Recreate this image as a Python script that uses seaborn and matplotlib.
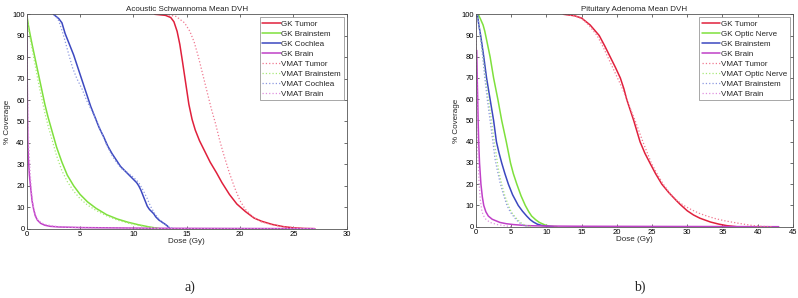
import numpy as np
import pandas as pd
import matplotlib
matplotlib.use('Agg')
import matplotlib.pyplot as plt
import seaborn as sns

sns.set_style('white')
plt.rcParams['font.family'] = ['Liberation Sans', 'DejaVu Sans']

# a) Acoustic Schwannoma
as_gk_tumor_dose = [12.0, 13.0, 13.5, 13.8, 14.1, 14.35, 14.6, 14.9, 15.2, 15.5, 15.8, 16.2, 16.7, 17.2, 17.8, 18.3, 19.0, 19.7, 20.5, 21.3, 22.0, 23.0, 24.0, 25.0, 26.0, 27.0]
as_gk_tumor_cov = [100, 99.5, 98.5, 96.5, 92, 86, 78, 68, 58, 51, 46, 41, 36, 31, 26, 21.5, 16, 11.5, 8, 5, 3.5, 2, 1, 0.4, 0.1, 0]
as_vmat_tumor_dose = [13.0, 14.0, 14.8, 15.3, 15.7, 16.1, 16.5, 16.9, 17.3, 17.7, 18.1, 18.5, 19.0, 19.5, 20.0, 20.5, 21.2, 22.0, 23.0, 24.0, 25.0, 26.0]
as_vmat_tumor_cov = [100, 99, 96, 92, 87, 80, 72, 64, 56, 49, 41, 34, 26, 19, 13, 9, 5.5, 3.2, 1.8, 1.0, 0.5, 0]

as_gk_brainstem_dose = [0, 0.15, 0.3, 0.5, 0.8, 1.1, 1.4, 1.7, 2.0, 2.4, 2.8, 3.3, 3.8, 4.4, 5.0, 5.7, 6.5, 7.5, 8.5, 9.5, 10.5, 11.5, 12.5]
as_gk_brainstem_cov = [100, 95, 91, 86, 79, 72, 65, 58, 52, 45, 38, 31, 25, 20, 16, 12.5, 9.5, 6.5, 4.5, 3, 1.8, 0.8, 0]
as_vmat_brainstem_dose = [0, 0.15, 0.3, 0.5, 0.8, 1.1, 1.4, 1.7, 2.0, 2.4, 2.8, 3.3, 3.8, 4.4, 5.0, 5.7, 6.5, 7.5, 8.5, 9.5, 10.5, 11.5, 12.5]
as_vmat_brainstem_cov = [100, 94, 89, 84, 76, 68, 61, 54, 48, 41, 34, 27, 22, 17.5, 14, 11, 8.5, 6, 4, 2.6, 1.5, 0.6, 0]

as_gk_cochlea_dose = [2.5, 3.0, 3.3, 3.6, 4.0, 4.4, 4.8, 5.2, 5.6, 6.0, 6.4, 6.8, 7.2, 7.6, 8.0, 8.4, 8.8, 9.2, 9.6, 10.0, 10.3, 10.5, 10.7, 10.9, 11.1, 11.3, 11.5, 11.7, 11.9, 12.1, 12.4, 12.7, 13.0, 13.2, 13.4]
as_gk_cochlea_cov = [100, 98, 96, 91, 86, 81, 75, 69, 63, 57, 52, 47, 43, 38.5, 35, 32, 29, 27, 25, 23, 21.5, 20, 18, 15.5, 13, 10.5, 9, 8, 7, 5.5, 4, 3, 2, 1.2, 0]
as_vmat_cochlea_dose = [2.6, 3.0, 3.4, 3.9, 4.3, 4.7, 5.2, 5.6, 6.1, 6.6, 7.0, 7.4, 7.9, 8.4, 8.9, 9.5, 10.0, 10.5, 10.9, 11.3, 11.6, 12.0, 12.4, 12.8, 13.2, 13.75]
as_vmat_cochlea_cov = [100, 97, 91, 82, 75, 70, 65, 60, 55, 50, 45, 40, 35, 31, 28, 26, 24, 21.5, 18, 14, 10.5, 7, 4.5, 2.5, 1.2, 0]

as_gk_brain_dose = [0, 0.02, 0.04, 0.07, 0.1, 0.15, 0.25, 0.37, 0.5, 0.65, 0.8, 1.0, 1.3, 1.7, 2.2, 3.0, 5.3, 12, 27]
as_gk_brain_cov = [100, 92, 75, 55, 42, 33, 25, 19, 13, 9, 6, 4, 2.5, 1.6, 1.1, 0.8, 0.5, 0.2, 0]
as_vmat_brain_dose = [0, 0.03, 0.07, 0.12, 0.2, 0.3, 0.45, 0.6, 0.8, 1.0, 1.3, 1.7, 2.5, 3.5, 5, 12, 27]
as_vmat_brain_cov = [100, 85, 65, 50, 38, 28, 17, 11, 7, 4.5, 3, 2, 1.2, 0.8, 0.4, 0.1, 0]

# b) Pituitary Adenoma
pa_gk_tumor_dose = [12.4, 14.0, 15.0, 16.2, 17.5, 18.3, 19.05, 19.8, 20.5, 21.0, 21.4, 21.9, 22.4, 22.85, 23.3, 24.0, 24.7, 25.5, 26.4, 27.4, 28.4, 29.0, 30.0, 30.9, 31.8, 33.3, 34.5, 35.6, 37.0]
pa_gk_tumor_cov = [100, 99.3, 98.2, 95, 90, 85, 80, 75, 70, 65, 60, 55, 50, 45, 40, 34.5, 30, 25, 20, 16, 12.5, 10.5, 7.5, 5.5, 4, 2.2, 1.2, 0.5, 0]
pa_vmat_tumor_dose = [12.4, 14.0, 15.0, 16.0, 17.2, 18.0, 18.7, 19.4, 20.1, 20.8, 21.4, 22.0, 22.6, 23.15, 23.7, 24.3, 24.9, 25.7, 26.6, 27.6, 28.5, 29.5, 30.6, 31.7, 32.8, 34.0, 35.3, 36.6, 38.0, 39.2, 40.4, 42.0]
pa_vmat_tumor_cov = [100, 99.3, 98, 95, 90, 85, 80, 75, 70, 65, 60, 55, 50, 45, 40, 35, 30, 25, 20, 15.5, 12.5, 10, 8, 6.3, 5, 3.8, 2.8, 2, 1.2, 0.6, 0.2, 0]

pa_gk_optic_dose = [0.3, 0.6, 1.0, 1.25, 1.5, 1.75, 2.0, 2.5, 3.1, 3.65, 4.3, 4.9, 5.3, 5.8, 6.4, 7.0, 7.5, 7.9, 8.5, 9.0, 9.8, 10.5, 11.5]
pa_gk_optic_cov = [100, 98, 95, 92, 88, 84, 80, 70, 60, 50, 40, 30, 25, 20, 14.5, 10, 7, 5, 3.2, 2, 0.8, 0.2, 0]
pa_vmat_optic_dose = [0.2, 0.4, 0.6, 1.0, 1.35, 1.75, 2.2, 2.6, 3.0, 3.3, 3.65, 4.1, 4.6, 5.0, 5.5, 6.0, 6.5, 7.2, 8.0]
pa_vmat_optic_cov = [100, 96, 90, 80, 70, 60, 50, 40, 31, 25, 20, 14.5, 10, 7, 4.8, 3, 1.5, 0.4, 0]

pa_gk_brainstem_dose = [0.2, 0.4, 0.66, 1.1, 1.5, 2.0, 2.5, 2.9, 3.25, 3.65, 4.1, 4.6, 5.2, 6.0, 6.6, 7.2, 7.7, 8.15, 8.7, 9.3, 10.2, 11.0]
pa_gk_brainstem_cov = [100, 95, 90, 80, 70, 60, 50, 40, 35, 30, 25, 20, 15, 10, 7.3, 5, 3.3, 2.2, 1.2, 0.6, 0.2, 0]
pa_vmat_brainstem_dose = [0.2, 0.4, 0.6, 0.95, 1.25, 1.6, 2.0, 2.4, 2.7, 3.0, 3.4, 3.9, 4.4, 4.85, 5.3, 5.7, 6.2, 6.7, 7.5]
pa_vmat_brainstem_cov = [100, 95, 90, 80, 70, 60, 50, 40, 32, 27, 21, 15, 10, 7, 5, 3.3, 1.8, 0.7, 0]

pa_gk_brain_dose = [0, 0.1, 0.17, 0.24, 0.3, 0.38, 0.5, 0.7, 0.9, 1.1, 1.4, 1.75, 2.3, 3.4, 4.3, 5.3, 7.2, 10, 15, 43]
pa_gk_brain_cov = [83, 83, 70, 60, 50, 40, 30, 20, 14, 10, 7, 5, 3.5, 2, 1.4, 1, 0.5, 0.3, 0.2, 0]
pa_vmat_brain_dose = [0, 0.05, 0.1, 0.15, 0.22, 0.32, 0.45, 0.6, 0.8, 1.0, 1.4, 2.0, 3.0, 4.0, 5.0]
pa_vmat_brain_cov = [100, 80, 65, 52, 40, 30, 20, 13, 8, 5.5, 3.5, 2, 1, 0.5, 0]

red, green, blue, mag = '#e0203c', '#7ee03c', '#3c48c0', '#c040c8'
lred, lgreen, lblue, lmag = '#f07890', '#a8e878', '#8c98e0', '#e090e0'

panels = [
    ('Acoustic Schwannoma Mean DVH', 30, [
        ('GK Tumor', as_gk_tumor_dose, as_gk_tumor_cov, red, '-'),
        ('GK Brainstem', as_gk_brainstem_dose, as_gk_brainstem_cov, green, '-'),
        ('GK Cochlea', as_gk_cochlea_dose, as_gk_cochlea_cov, blue, '-'),
        ('GK Brain', as_gk_brain_dose, as_gk_brain_cov, mag, '-'),
        ('VMAT Tumor', as_vmat_tumor_dose, as_vmat_tumor_cov, lred, ':'),
        ('VMAT Brainstem', as_vmat_brainstem_dose, as_vmat_brainstem_cov, lgreen, ':'),
        ('VMAT Cochlea', as_vmat_cochlea_dose, as_vmat_cochlea_cov, lblue, ':'),
        ('VMAT Brain', as_vmat_brain_dose, as_vmat_brain_cov, lmag, ':'),
    ], [0.0335, 0.2326, 0.401, 0.7195], 'a)', 0.238),
    ('Pituitary Adenoma Mean DVH', 45, [
        ('GK Tumor', pa_gk_tumor_dose, pa_gk_tumor_cov, red, '-'),
        ('GK Optic Nerve', pa_gk_optic_dose, pa_gk_optic_cov, green, '-'),
        ('GK Brainstem', pa_gk_brainstem_dose, pa_gk_brainstem_cov, blue, '-'),
        ('GK Brain', pa_gk_brain_dose, pa_gk_brain_cov, mag, '-'),
        ('VMAT Tumor', pa_vmat_tumor_dose, pa_vmat_tumor_cov, lred, ':'),
        ('VMAT Optic Nerve', pa_vmat_optic_dose, pa_vmat_optic_cov, lgreen, ':'),
        ('VMAT Brainstem', pa_vmat_brainstem_dose, pa_vmat_brainstem_cov, lblue, ':'),
        ('VMAT Brain', pa_vmat_brain_dose, pa_vmat_brain_cov, lmag, ':'),
    ], [0.5965, 0.2393, 0.397, 0.7128], 'b)', 0.802),
]

fig = plt.figure(figsize=(7.98, 2.98), dpi=100)

for title, xmax, series, pos, tag, tx in panels:
    ax = fig.add_axes(pos)
    for name, d, c, col, ls in series:
        sns.lineplot(x=d, y=c, ax=ax, color=col, linestyle=ls,
                     lw=1.1 if ls == '-' else 0.9, label=name,
                     sort=False, estimator=None)
    ax.set_xlim(0, xmax)
    ax.set_ylim(0, 100)
    ax.set_xticks(np.arange(0, xmax + 1, 5))
    ax.set_yticks(np.arange(0, 101, 10))
    ax.tick_params(direction='in', length=2.5, width=0.5, labelsize=5.5,
                   pad=1.5, top=True, right=True, bottom=True, left=True,
                   colors='#333333', labelcolor='black')
    for s in ax.spines.values():
        s.set_color('#555555')
        s.set_linewidth(0.6)
    ax.set_title(title, fontsize=5.8, pad=2.5)
    ax.set_xlabel('Dose (Gy)', fontsize=5.8, labelpad=0.5)
    ax.set_ylabel('% Coverage', fontsize=5.8, labelpad=1)
    leg = ax.legend(loc='upper right', fontsize=5.8, frameon=True, fancybox=False,
                    borderpad=0.3, labelspacing=0.3, handlelength=2.3,
                    handletextpad=0.1, borderaxespad=0.4)
    leg.get_frame().set_edgecolor('#666666')
    leg.get_frame().set_linewidth(0.5)
    fig.text(tx, 0.037, tag, fontsize=10, family=['Liberation Serif', 'DejaVu Serif'],
             ha='center', va='center')

fig.savefig('out.png', dpi=100, facecolor='white')
